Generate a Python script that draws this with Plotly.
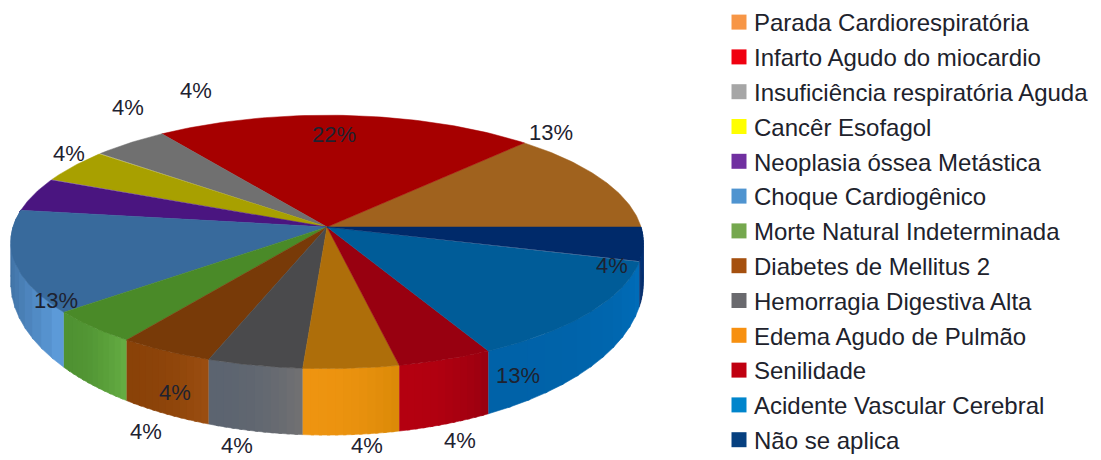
import numpy as np
import plotly.graph_objects as go

# ---- data (counts out of 23 give 13 %, 22 %, 4 %)
categories = ["Parada Cardiorespiratória", "Infarto Agudo do miocardio",
              "Insuficiência respiratória Aguda", "Cancêr Esofagol",
              "Neoplasia óssea Metástica", "Choque Cardiogênico",
              "Morte Natural Indeterminada", "Diabetes de Mellitus 2",
              "Hemorragia Digestiva Alta", "Edema Agudo de Pulmão",
              "Senilidade", "Acidente Vascular Cerebral", "Não se aplica"]
values = [3, 5, 1, 1, 1, 3, 1, 1, 1, 1, 1, 3, 1]

legend_colors = ["#F79646", "#F00010", "#A6A6A6", "#FFFF00", "#7030A0", "#4F94D0", "#75A84E",
                 "#A5500F", "#6A6A6E", "#F79010", "#C00010", "#0085CC", "#064080"]
top_colors = ["#A0621E", "#A60000", "#707070", "#A8A000", "#4A1580", "#386A9C", "#4A8A28",
              "#783A08", "#4A4A4C", "#AE6E0A", "#980010", "#005C98", "#002A6A"]
side_left = ["#A0621E", "#A60000", "#707070", "#A8A000", "#4A1580", "#3C6C9E", "#4F9232",
             "#8A4208", "#5C6470", "#EE9410", "#B40010", "#0062A8", "#002A6A"]
side_right = ["#A0621E", "#A60000", "#707070", "#A8A000", "#4A1580", "#5C9AD8", "#64AC42",
              "#9A4D10", "#707072", "#DC8A08", "#9A0010", "#006CB8", "#003478"]

# label anchor points in page pixels (centre of each percentage text)
label_x = [551, 334, 196, 128, 69, 56, 146, 175, 237, 367, 460, 518, 612]
label_y = [132, 134, 90, 107, 153, 300, 431, 392, 445, 445, 440, 375, 265]

# ---- projection of the pie (page pixels)
CX, CY = 327, 227
A, B, Q = 314, 125, 0.118
D, K = 38, 0.2


def top(theta):
    th = np.radians(theta)
    w = 1 + Q * np.sin(th)
    return CX + A * np.cos(th) / w, CY - B * np.sin(th) / w


def bottom(theta):
    x, y = top(theta)
    return x, y + D + K * np.maximum(y - CY, 0)


def mix(c1, c2, t):
    a = [int(c1[i:i + 2], 16) for i in (1, 3, 5)]
    b = [int(c2[i:i + 2], 16) for i in (1, 3, 5)]
    return "rgb(%d,%d,%d)" % tuple(round(p + (q - p) * t) for p, q in zip(a, b))


total = sum(values)
edges = np.concatenate([[0], np.cumsum(values)]) / total * 360
fig = go.Figure()

# side walls, visible along the near half of the rim
for i in range(len(values)):
    t1, t2 = max(edges[i], 172), edges[i + 1]
    if t2 <= t1:
        continue
    steps = np.linspace(t1, t2, 13)
    for j in range(12):
        a = np.linspace(steps[j], steps[j + 1] + (0.5 if j < 11 else 0), 5)
        xt, yt = top(a)
        xb, yb = bottom(a)
        colour = mix(side_left[i], side_right[i], (j / 11) ** 2)
        fig.add_trace(go.Scatter(
            x=np.r_[xt, xb[::-1]], y=np.r_[yt, yb[::-1]], mode="lines", fill="toself",
            line=dict(width=0.6, color=colour), fillcolor=colour,
            showlegend=False, hoverinfo="skip"))

# top face
for i, name in enumerate(categories):
    a = np.linspace(edges[i], edges[i + 1], 60)
    xt, yt = top(a)
    fig.add_trace(go.Scatter(
        x=np.r_[CX, xt, CX], y=np.r_[CY, yt, CY], mode="lines", fill="toself",
        line=dict(width=0.5, color=top_colors[i]), fillcolor=top_colors[i],
        name=name, showlegend=False, hoverinfo="name"))

# legend entries
for i, name in enumerate(categories):
    fig.add_trace(go.Scatter(
        x=[None], y=[None], mode="markers", name=name, legendgroup=name,
        marker=dict(symbol="square", size=15, color=legend_colors[i])))

# percentage labels
for i, v in enumerate(values):
    fig.add_annotation(x=label_x[i], y=label_y[i], text="%d%%" % round(v / total * 100),
                       showarrow=False, xanchor="center", yanchor="middle",
                       font=dict(family="Liberation Sans, Arial, sans-serif", size=22, color="#1E2230"))

fig.update_layout(
    width=1101, height=460, margin=dict(l=0, r=0, t=0, b=0),
    paper_bgcolor="white", plot_bgcolor="white",
    xaxis=dict(range=[0, 1101], visible=False, fixedrange=True),
    yaxis=dict(range=[460, 0], visible=False, fixedrange=True),
    legend=dict(x=714 / 1101, y=1, xanchor="left", yanchor="top",
                tracegroupgap=0.6, itemsizing="trace", bgcolor="rgba(0,0,0,0)", maxheight=1,
                font=dict(family="Liberation Sans, Arial, sans-serif", size=24, color="#20222C")),
)
fig.write_html("out.html", config=dict(displayModeBar=False), post_script=(
    "document.body.style.margin='0';document.body.style.overflow='hidden';"
    "document.querySelectorAll('.legend .scrollbar').forEach(e=>e.style.display='none');"
    "document.querySelectorAll('.legend .legendsymbols').forEach(e=>e.setAttribute('transform','translate(5,0)'));"
))
